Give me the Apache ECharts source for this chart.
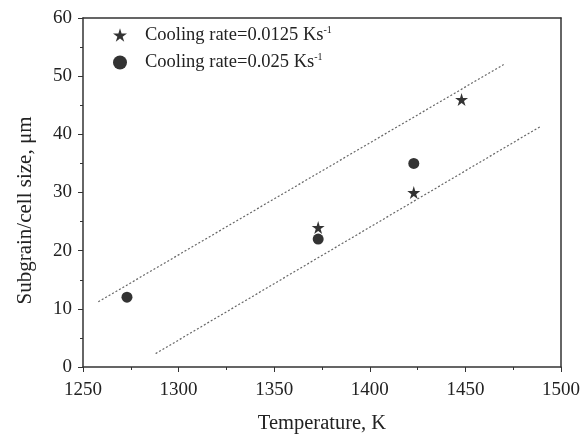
<!DOCTYPE html>
<html><head><meta charset="utf-8">
<script src="https://cdn.jsdelivr.net/npm/echarts@6/dist/echarts.min.js"></script>
<style>html,body{margin:0;padding:0;background:#fff}#c{width:582px;height:435px}</style>
</head><body><div id="c"></div>
<script>
var starTemps = [1373, 1423, 1448];
var starSizes = [24, 30, 46];
var circleTemps = [1273, 1373, 1423];
var circleSizes = [12, 22, 35];
var upperBandT = [1258, 1470];
var upperBandV = [11.2, 52];
var lowerBandT = [1288, 1489];
var lowerBandV = [2.3, 41.3];
var xTicks = [1250, 1300, 1350, 1400, 1450, 1500];
var yTicks = [0, 10, 20, 30, 40, 50, 60];

function pairs(a, b){ return a.map(function(v,i){ return [v, b[i]]; }); }
var STAR = 'path://M50,0 L61,35 L98,35 L68,57 L79,91 L50,70 L21,91 L32,57 L2,35 L39,35 Z';
var font = 'Liberation Serif';
var chart = echarts.init(document.getElementById('c'));
function axisCommon(){ return {
  axisLine:{show:true,onZero:false,lineStyle:{color:'#333',width:1.5}},
  axisTick:{show:true,inside:false,length:5,lineStyle:{color:'#333'}},
  minorTick:{show:true,splitNumber:2,length:3,lineStyle:{color:'#333'}},
  splitLine:{show:false}
};}
chart.setOption({
  animation:false,
  grid:{left:83,right:21,top:18,bottom:68,containLabel:false,outerBoundsMode:'none'},
  legend:{
    left:108, top:20, orient:'vertical', itemGap:8, itemWidth:14, itemHeight:14,
    data:[{name:'s1',icon:STAR},{name:'s2',icon:'circle'}],
    textStyle:{fontFamily:font,fontSize:18.5,color:'#222',
      rich:{t:{fontFamily:font,fontSize:18.5,color:'#222',lineHeight:20,padding:[0,0,0,13]},sup:{fontFamily:font,fontSize:10,color:'#222',verticalAlign:'top',lineHeight:20,padding:[0,0,6,0]}}},
    formatter:function(n){ return n==='s1' ? '{t|Cooling rate=0.0125 Ks}{sup|-1}' : '{t|Cooling rate=0.025 Ks}{sup|-1}'; }
  },
  xAxis:[Object.assign({type:'value',min:1250,max:1500,interval:50,
    axisLabel:{fontFamily:font,fontSize:19,color:'#222',margin:14,formatter:function(v){return String(v);}},
    name:'Temperature, K',nameLocation:'middle',nameGap:46,
    nameTextStyle:{fontFamily:font,fontSize:20.5,color:'#222'}},axisCommon()),
    {type:'value',position:'top',min:1250,max:1500,axisLine:{show:true,onZero:false,lineStyle:{color:'#333',width:1.5}},axisTick:{show:false},axisLabel:{show:false},splitLine:{show:false}}],
  yAxis:[Object.assign({type:'value',min:0,max:60,interval:10,
    axisLabel:{fontFamily:font,fontSize:19,color:'#222',margin:11},
    name:'Subgrain/cell size, \u03bcm',nameLocation:'middle',nameGap:47,
    nameTextStyle:{fontFamily:font,fontSize:21,color:'#222',padding:[0,36,0,0]}},axisCommon()),
    {type:'value',position:'right',min:0,max:60,axisLine:{show:true,onZero:false,lineStyle:{color:'#333',width:1.5}},axisTick:{show:false},axisLabel:{show:false},splitLine:{show:false}}],
  series:[
    {name:'upper',type:'line',data:pairs(upperBandT,upperBandV),symbol:'none',lineStyle:{type:[2,2],color:'#666',width:1.2},silent:true},
    {name:'lower',type:'line',data:pairs(lowerBandT,lowerBandV),symbol:'none',lineStyle:{type:[2,2],color:'#666',width:1.2},silent:true},
    {name:'s1',type:'scatter',data:pairs(starTemps,starSizes),symbol:STAR,symbolSize:13,itemStyle:{color:'#000'}},
    {name:'s2',type:'scatter',data:pairs(circleTemps,circleSizes),symbol:'circle',symbolSize:11,itemStyle:{color:'#000'}}
  ]
});
</script></body></html>
